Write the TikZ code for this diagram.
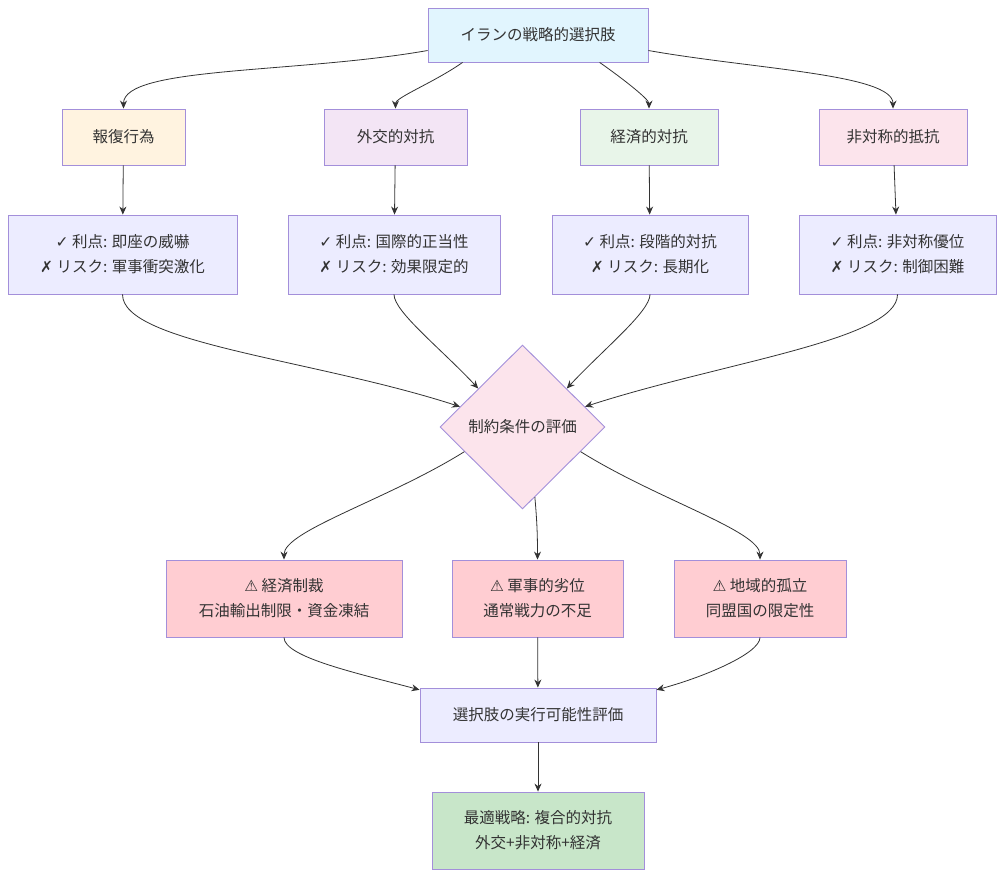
\documentclass[tikz,border=0pt]{standalone}
\usepackage{fontspec}
\setmainfont{Noto Sans CJK JP}
\newfontfamily\symfont{DejaVu Sans}
\usetikzlibrary{shapes.geometric, arrows.meta}

\definecolor{edgeline}{HTML}{333333}
\definecolor{boxline}{HTML}{A38FDA}
\definecolor{fillroot}{HTML}{E1F5FE}
\definecolor{fillret}{HTML}{FFF3E0}
\definecolor{filldip}{HTML}{F3E5F5}
\definecolor{filleco}{HTML}{E8F5E9}
\definecolor{fillasy}{HTML}{FCE4EC}
\definecolor{fillpro}{HTML}{ECECFF}
\definecolor{fillrisk}{HTML}{FFCDD2}
\definecolor{fillbest}{HTML}{C8E6C9}

\newcommand{\okmark}{{\symfont\char"2713}}
\newcommand{\ngmark}{{\symfont\char"2717}}
\newcommand{\warnmark}{{\symfont\char"26A0}}

\begin{document}
\begin{tikzpicture}[x=1pt, y=-1pt, >=stealth,
    every node/.style={font=\fontsize{15.5}{25}\selectfont, text=black!80},
    box/.style={draw=boxline, line width=0.9pt, rectangle, align=center, inner sep=0pt},
    arr/.style={->, draw=edgeline, line width=0.8pt, >={Stealth[length=8pt,width=7pt]}},
    bendend/.style={out looseness=1.1, in looseness=0.35},
    bendstart/.style={out looseness=0.35, in looseness=1.1}]
    \useasboundingbox (0,0) rectangle (1004,878);
    % root
    \node[box, fill=fillroot, minimum width=220, minimum height=54] (root) at (538,35) {イランの戦略的選択肢};
    % options
    \node[box, fill=fillret, minimum width=123, minimum height=56] (ret) at (123.5,137) {報復行為};
    \node[box, fill=filldip, minimum width=143, minimum height=56] (dip) at (395.5,137) {外交的対抗};
    \node[box, fill=filleco, minimum width=138, minimum height=56] (eco) at (649,137) {経済的対抗};
    \node[box, fill=fillasy, minimum width=148, minimum height=56] (asy) at (893,137) {非対称的抵抗};
    % pros and cons
    \node[box, fill=fillpro, minimum width=229, minimum height=79] (retpc) at (122.5,254.5) {\okmark{} 利点: 即座の威嚇\\\ngmark{} リスク: 軍事衝突激化};
    \node[box, fill=fillpro, minimum width=212, minimum height=79] (dippc) at (394,254.5) {\okmark{} 利点: 国際的正当性\\\ngmark{} リスク: 効果限定的};
    \node[box, fill=fillpro, minimum width=196, minimum height=79] (ecopc) at (650,254.5) {\okmark{} 利点: 段階的対抗\\\ngmark{} リスク: 長期化};
    \node[box, fill=fillpro, minimum width=197, minimum height=79] (asypc) at (897.5,254.5) {\okmark{} 利点: 非対称優位\\\ngmark{} リスク: 制御困難};
    % constraints
    \node[draw=boxline, line width=0.9pt, fill=fillasy, diamond, aspect=1, inner sep=0pt,
        minimum width=165, minimum height=164] (cons) at (522.5,427) {制約条件の評価};
    \node[box, fill=fillrisk, minimum width=236, minimum height=77] (sanc) at (284,598.5) {\warnmark{} 経済制裁\\石油輸出制限・資金凍結};
    \node[box, fill=fillrisk, minimum width=171, minimum height=77] (mil) at (537.5,598.5) {\warnmark{} 軍事的劣位\\通常戦力の不足};
    \node[box, fill=fillrisk, minimum width=172, minimum height=77] (iso) at (760,598.5) {\warnmark{} 地域的孤立\\同盟国の限定性};
    % result
    \node[box, fill=fillpro, minimum width=236, minimum height=54] (feas) at (538,715) {選択肢の実行可能性評価};
    \node[box, fill=fillbest, minimum width=212, minimum height=77] (best) at (538,830.5) {最適戦略: 複合的対抗\\外交+非対称+経済};

    % root to options
    \draw[arr] (root.188) to[out=190, in=90, bendend] (ret.north);
    \draw[arr] (root.200) to[out=215, in=90, bendend] (dip.north);
    \draw[arr] (root.336) to[out=325, in=90, bendend] (eco.north);
    \draw[arr] (root.-8) to[out=-10, in=90, bendend] (asy.north);
    % options to pros and cons
    \draw[arr] (ret) -- (retpc);
    \draw[arr] (dip) -- (dippc);
    \draw[arr] (eco) -- (ecopc);
    \draw[arr] (asy) -- (asypc);
    % pros and cons to constraints
    \draw[arr] (retpc.south) to[out=270, in=162, bendstart] (cons.162);
    \draw[arr] (dippc.south) to[out=270, in=133, bendstart] (cons.139);
    \draw[arr] (ecopc.south) to[out=270, in=47, bendstart] (cons.41);
    \draw[arr] (asypc.south) to[out=270, in=18, bendstart] (cons.18);
    % constraints to risks
    \draw[arr] (cons.203) to[out=212, in=90, bendend] (sanc.north);
    \draw[arr] (cons.280) to[out=275, in=90] (mil.north);
    \draw[arr] (cons.337) to[out=328, in=90, bendend] (iso.north);
    % risks to feasibility
    \draw[arr] (sanc.south) to[out=270, in=165, bendstart] (feas.168);
    \draw[arr] (mil) -- (feas);
    \draw[arr] (iso.south) to[out=270, in=15, bendstart] (feas.12);
    \draw[arr] (feas) -- (best);
\end{tikzpicture}
\end{document}
